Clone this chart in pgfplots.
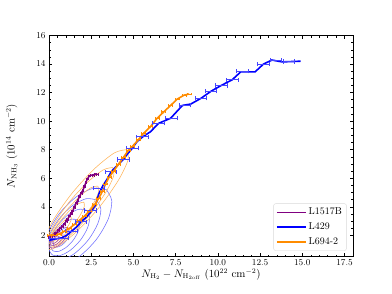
\documentclass[border=0pt]{standalone}
\usepackage{pgfplots}
\pgfplotsset{compat=1.18}
\usetikzlibrary{calc}
\definecolor{mpurple}{RGB}{128,0,128}
\definecolor{mblue}{RGB}{0,0,255}
\definecolor{morange}{RGB}{255,140,0}
\definecolor{ebblue}{RGB}{70,70,255}
\definecolor{cblue}{RGB}{110,110,255}
\definecolor{corange}{RGB}{255,180,90}
\definecolor{cpurple}{RGB}{170,80,170}
\pgfdeclareplotmark{ebar}{%
  \pgfpathmoveto{\pgfqpoint{-\pgfplotmarksize}{0pt}}%
  \pgfpathlineto{\pgfqpoint{\pgfplotmarksize}{0pt}}%
  \pgfpathmoveto{\pgfqpoint{-\pgfplotmarksize}{-2.2bp}}%
  \pgfpathlineto{\pgfqpoint{-\pgfplotmarksize}{2.2bp}}%
  \pgfpathmoveto{\pgfqpoint{\pgfplotmarksize}{-2.2bp}}%
  \pgfpathlineto{\pgfqpoint{\pgfplotmarksize}{2.2bp}}%
  \pgfusepathqstroke}
\pgfdeclareplotmark{ebarS}{%
  \pgfpathmoveto{\pgfqpoint{-\pgfplotmarksize}{0pt}}%
  \pgfpathlineto{\pgfqpoint{\pgfplotmarksize}{0pt}}%
  \pgfpathmoveto{\pgfqpoint{-\pgfplotmarksize}{-1.4bp}}%
  \pgfpathlineto{\pgfqpoint{-\pgfplotmarksize}{1.4bp}}%
  \pgfpathmoveto{\pgfqpoint{\pgfplotmarksize}{-1.4bp}}%
  \pgfpathlineto{\pgfqpoint{\pgfplotmarksize}{1.4bp}}%
  \pgfusepathqstroke}
\begin{document}
\begin{tikzpicture}
\begin{axis}[name=ax, scale only axis, width=304bp, height=221.2bp,
 xmin=0, xmax=18, ymin=0.5, ymax=16,
 xtick={0,2.5,5,7.5,10,12.5,15,17.5}, ytick={2,4,6,8,10,12,14,16},
 minor x tick num=4, minor y tick num=3,
 tick align=inside, tick pos=both,
 major tick length=3.5bp, minor tick length=2bp,
 every tick/.style={black, line width=0.5bp},
 axis line style={line width=0.6bp},
 x tick label style={/pgf/number format/.cd, fixed, fixed zerofill, precision=1},
 tick label style={font=\fontsize{9}{10}\selectfont},
 label style={font=\fontsize{10.5}{12}\selectfont},
 xlabel={$N_{\mathrm{H_2}}-N_{\mathrm{H_{2off}}}$ $(10^{22}\ \mathrm{cm^{-2}})$},
 ylabel={$N_{\mathrm{NH_3}}$ $(10^{14}\ \mathrm{cm^{-2}})$},
 xlabel shift=-4bp, ylabel shift=12bp,
 legend style={at={(0.979,0.027)}, anchor=south east, draw=black!15, rounded corners=2bp, fill=white, font=\fontsize{10}{12}\selectfont, inner sep=2.5bp, row sep=2.5bp, cells={anchor=west}},
]
% ---- contours: blue (L429)
\addplot[cblue, line width=0.55bp, smooth, forget plot] coordinates {(3.4,5.2) (3.72,4.4) (3.5,3.12) (2.8,1.7) (1.8,0.52) (0.78,-0.1) (0.0,0.0) (-0.32,0.8) (-0.1,2.08) (0.6,3.5) (1.6,4.68) (2.62,5.3) (3.4,5.2)};
\addplot[cblue, line width=0.55bp, smooth, forget plot] coordinates {(2.81,4.48) (3.07,3.84) (2.89,2.82) (2.33,1.68) (1.53,0.74) (0.71,0.24) (0.09,0.32) (-0.17,0.96) (0.01,1.98) (0.57,3.12) (1.37,4.06) (2.19,4.56) (2.81,4.48)};
\addplot[cblue, line width=0.55bp, smooth, forget plot] coordinates {(2.22,3.76) (2.41,3.28) (2.28,2.51) (1.86,1.66) (1.26,0.95) (0.65,0.58) (0.18,0.64) (-0.01,1.12) (0.12,1.89) (0.54,2.74) (1.14,3.45) (1.75,3.82) (2.22,3.76)};
\addplot[cblue, line width=0.55bp, smooth, forget plot] coordinates {(1.66,3.09) (1.8,2.76) (1.71,2.22) (1.41,1.62) (0.99,1.13) (0.56,0.87) (0.24,0.91) (0.1,1.24) (0.19,1.78) (0.49,2.38) (0.91,2.87) (1.34,3.13) (1.66,3.09)};
\addplot[cblue, line width=0.55bp, smooth, forget plot] coordinates {(1.18,2.5) (1.26,2.3) (1.2,1.98) (1.03,1.63) (0.78,1.33) (0.52,1.18) (0.33,1.2) (0.25,1.4) (0.3,1.72) (0.48,2.08) (0.73,2.37) (0.98,2.53) (1.18,2.5)};
% ---- contours: orange (L694-2)
\addplot[corange, line width=0.55bp, smooth, forget plot] coordinates {(4.6,8.0) (4.68,7.28) (4.09,5.82) (3.0,4.0) (1.69,2.32) (0.52,1.22) (-0.2,1.0) (-0.28,1.72) (0.31,3.18) (1.4,5.0) (2.71,6.68) (3.88,7.78) (4.6,8.0)};
\addplot[corange, line width=0.55bp, smooth, forget plot] coordinates {(3.77,6.75) (3.83,6.17) (3.36,5.01) (2.49,3.55) (1.44,2.21) (0.51,1.33) (-0.07,1.15) (-0.13,1.73) (0.34,2.89) (1.21,4.35) (2.26,5.69) (3.19,6.57) (3.77,6.75)};
\addplot[corange, line width=0.55bp, smooth, forget plot] coordinates {(2.89,5.45) (2.94,5.02) (2.58,4.14) (1.93,3.05) (1.14,2.04) (0.44,1.38) (0.01,1.25) (-0.04,1.68) (0.32,2.56) (0.97,3.65) (1.76,4.66) (2.46,5.32) (2.89,5.45)};
\addplot[corange, line width=0.55bp, smooth, forget plot] coordinates {(2.06,4.32) (2.09,4.02) (1.84,3.40) (1.39,2.64) (0.84,1.93) (0.34,1.47) (0.04,1.38) (0.01,1.68) (0.26,2.30) (0.71,3.06) (1.26,3.77) (1.76,4.23) (2.06,4.32)};
\addplot[corange, line width=0.55bp, smooth, forget plot] coordinates {(1.3,3.28) (1.32,3.1) (1.17,2.73) (0.9,2.28) (0.57,1.85) (0.28,1.58) (0.1,1.53) (0.08,1.7) (0.23,2.07) (0.5,2.53) (0.83,2.95) (1.12,3.22) (1.3,3.28)};
% ---- contours: purple (L1517B)
\addplot[cpurple, line width=0.55bp, smooth, forget plot] coordinates {(1.05,2.55) (1.13,2.33) (1.06,1.98) (0.85,1.6) (0.56,1.28) (0.27,1.12) (0.05,1.15) (-0.03,1.37) (0.04,1.72) (0.25,2.1) (0.54,2.42) (0.83,2.58) (1.05,2.55)};
\addplot[cpurple, line width=0.55bp, smooth, forget plot] coordinates {(0.78,2.21) (0.83,2.06) (0.78,1.84) (0.65,1.59) (0.46,1.38) (0.27,1.28) (0.13,1.3) (0.07,1.44) (0.12,1.66) (0.26,1.91) (0.44,2.12) (0.63,2.23) (0.78,2.21)};
\addplot[cpurple, line width=0.55bp, smooth, forget plot] coordinates {(0.56,1.93) (0.58,1.85) (0.56,1.73) (0.49,1.59) (0.38,1.48) (0.28,1.42) (0.21,1.44) (0.18,1.51) (0.2,1.63) (0.28,1.77) (0.38,1.88) (0.48,1.94) (0.56,1.93)};

\pgfplotstableread{
x y
0.00 1.82
0.12 1.92
0.25 2.00
0.35 2.15
0.45 2.12
0.55 2.35
0.68 2.50
0.80 2.62
0.90 2.78
1.00 2.95
1.10 3.10
1.20 3.35
1.30 3.50
1.40 3.70
1.50 3.95
1.60 4.25
1.70 4.45
1.80 4.70
1.90 4.95
2.00 5.15
2.10 5.40
2.18 5.70
2.28 5.95
2.38 6.15
2.50 6.22
2.60 6.20
2.72 6.30
2.85 6.28
}\purpletab
\pgfplotstableread{
x y
0.00 2.00
0.30 2.02
0.60 2.08
0.90 2.28
1.20 2.48
1.50 2.75
1.80 3.05
2.10 3.35
2.40 3.70
2.70 4.15
2.95 4.60
3.15 5.05
3.35 5.60
3.55 6.05
3.80 6.45
4.10 6.95
4.40 7.45
4.70 7.95
4.95 8.25
5.30 8.70
5.60 9.15
6.00 9.60
6.40 10.20
6.80 10.65
7.20 11.10
7.60 11.55
8.00 11.82
8.30 11.90
}\orangetab

% ---- L1517B
\addplot[color=mpurple, line width=1.5bp, mark=none,
  legend image code/.code={\draw[mpurple, line width=1.1bp] (0bp,0bp) -- (23bp,0bp); \path (-1bp,0bp) -- (28bp,0bp);}] table[x=x, y=y] {\purpletab};
\addlegendentry{L1517B}
\addplot[color=mpurple, only marks, mark=ebarS, mark size=0.9bp, mark options={line width=0.5bp}, forget plot] table[x=x, y=y] {\purpletab};

% ---- L429
\addplot[color=mblue, line width=1.6bp, mark=none,
  legend image code/.code={\draw[mblue, line width=1.1bp] (0bp,0bp) -- (23bp,0bp); \path (-1bp,0bp) -- (28bp,0bp);}] coordinates {
(0.0,1.65) (0.4,1.75) (0.75,1.82) (1.05,2.0) (1.35,2.3) (1.65,2.6) (1.9,2.95) (2.2,3.25) (2.45,3.6) (2.75,4.1) (2.95,4.9) (3.2,5.5) (3.45,5.95) (3.68,6.45) (4.0,6.85) (4.35,7.25) (4.65,7.7) (4.9,8.05) (5.2,8.55) (5.55,8.9) (6.0,9.25) (6.5,9.85) (7.2,10.2) (7.9,11.1) (8.4,11.2) (9.0,11.6) (9.6,12.1) (10.2,12.5) (10.85,12.9) (11.35,13.45) (12.2,13.45) (12.7,14.0) (13.2,14.28) (13.8,14.15) (14.9,14.2)};
\addlegendentry{L429}
\addplot[color=ebblue, only marks, mark=ebar, mark size=9.3bp, mark options={line width=1bp}, forget plot] coordinates {(0.60,1.80)};
\addplot[color=ebblue, only marks, mark=ebar, mark size=5.8bp, mark options={line width=1bp}, forget plot] coordinates {
(1.35,2.30) (1.90,2.95) (2.45,3.75) (2.95,5.30) (3.68,6.45) (4.40,7.30) (4.95,8.10) (5.55,8.90) (6.50,9.85) (7.25,10.20) (8.05,11.12) (9.00,11.60) (9.60,12.10) (10.20,12.50) (10.85,12.90) (11.45,13.50) (12.70,14.00) (13.45,14.28) (14.20,14.17)};

% ---- L694-2
\addplot[color=morange, line width=1.6bp, mark=none,
  legend image code/.code={\draw[morange, line width=1.1bp] (0bp,0bp) -- (23bp,0bp); \path (-1bp,0bp) -- (28bp,0bp);}] table[x=x, y=y] {\orangetab};
\addlegendentry{L694-2}
\addplot[color=morange, only marks, mark=ebarS, mark size=2bp, mark options={line width=0.7bp}, forget plot] table[x=x, y=y] {\orangetab};
\end{axis}
\pgfresetboundingbox
\path ($(ax.south west)+(-49bp,-37.3bp)$) rectangle ($(ax.north east)+(39bp,35.5bp)$);
\end{tikzpicture}
\end{document}
